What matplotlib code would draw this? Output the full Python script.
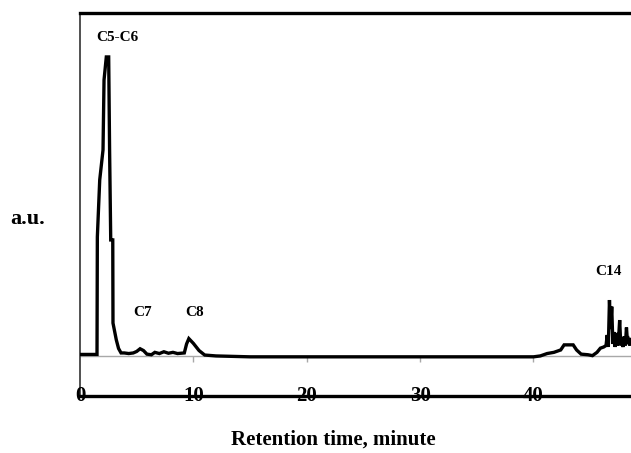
import matplotlib
matplotlib.use("Agg")
import matplotlib.pyplot as plt
import matplotlib.transforms as mtransforms

# Retention time (minutes) and detector response (a.u.)
time_min = [0, 1.50, 1.53, 1.74, 2.03, 2.12, 2.32, 2.53, 2.61, 2.71, 2.89, 2.91, 3.2, 3.4, 3.62,
            3.9, 4.3, 4.7, 5.0, 5.3, 5.6, 5.9, 6.3, 6.6, 7.0, 7.4, 7.8, 8.2, 8.6, 9.2, 9.4,
            9.6, 10.0, 10.5, 11.0, 12, 15, 20, 25, 30, 35, 40, 40.6, 41.2, 41.8, 42.4,
            42.7, 43.5, 43.8, 44.2, 44.8, 45.2, 45.6, 45.9, 46.2, 46.4, 46.5, 46.6, 46.7,
            46.8, 46.9, 47.0, 47.1, 47.2, 47.3, 47.4, 47.5, 47.6, 47.7, 47.8, 47.9, 48.0,
            48.1, 48.2, 48.3, 48.4, 48.5, 48.6]
signal = [0.5, 0.5, 39.8, 58.9, 68.9, 92.3, 100, 100, 68.9, 38.8, 38.8, 11, 5.4, 2.5, 1.0,
          1.0, 0.8, 1.0, 1.5, 2.4, 1.8, 0.6, 0.4, 1.2, 0.8, 1.4, 0.9, 1.2, 0.8, 1.0, 4.0,
          5.8, 4.2, 1.8, 0.3, 0, -0.3, -0.3, -0.3, -0.3, -0.3, -0.3, 0, 0.8, 1.2, 2.0,
          3.7, 3.7, 2.0, 0.6, 0.4, 0.1, 1.2, 2.6, 3.0, 3.5, 7.0, 3.0, 18.7,
          9.0, 16.5, 4.0, 8.0, 3.0, 7.7, 3.5, 5.5, 12.0, 3.5, 5.0, 3.0, 6.5,
          3.5, 9.5, 4.0, 5.0, 3.5, 5.5]

peak_names = ["C5-C6", "C7", "C8", "C14"]
peak_label_t = [3.27, 5.52, 10.1, 46.6]
peak_label_y = [106.4, 14.4, 14.4, 28.4]

ticks = [0, 10, 20, 30, 40]
tick_labels = ["0", "10", "20", "30", "40"]

SERIF = ["Liberation Serif", "DejaVu Serif"]

fig = plt.figure(figsize=(6.31, 4.53), dpi=100)
ax = fig.add_axes([80 / 631, 1 - 396 / 453, (631 - 80) / 631, 383 / 453])
ax.set_xlim(0, 48.6)
ax.set_ylim(-13.4, 114.7)

ax.plot(time_min, signal, color="black", lw=2.4, solid_joinstyle="miter", zorder=3)

# gray zero baseline with small ticks
ax.axhline(0, color="#a8a8a8", lw=1.0, zorder=2)
ax.vlines(ticks[1:], -2.0, 0, color="#a8a8a8", lw=1.0, zorder=2)

ax.spines["right"].set_visible(False)
ax.spines["top"].set_linewidth(2.4)
ax.spines["bottom"].set_linewidth(2.4)
ax.spines["left"].set_linewidth(1.2)
ax.spines["left"].set_color("#333333")
ax.set_xticks([])
ax.set_yticks([])

trans = mtransforms.blended_transform_factory(ax.transData, ax.transAxes)
for t, lab in zip(ticks, tick_labels):
    ax.text(t, 0, lab, transform=trans, ha="center", va="center", fontsize=15,
            fontweight="bold", family=SERIF, zorder=5, clip_on=False)

for name, t, y in zip(peak_names, peak_label_t, peak_label_y):
    ax.text(t, y, name, ha="center", va="center", fontsize=11, fontweight="bold",
            family=SERIF)

fig.text(333.5 / 631, 1 - 440 / 453, "Retention time, minute", ha="center", va="center",
         fontsize=15, fontweight="bold", family=SERIF)
fig.text(27.5 / 631, 1 - 219 / 453, "a.u.", ha="center", va="center",
         fontsize=16, fontweight="bold", family=SERIF)

fig.savefig("out.png", dpi=100)
